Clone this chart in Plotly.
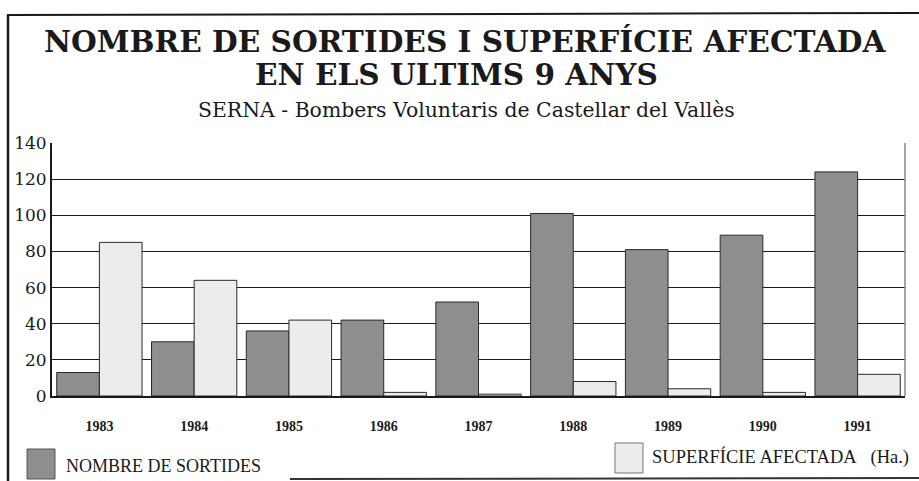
import plotly.graph_objects as go

years = ["1983", "1984", "1985", "1986", "1987", "1988", "1989", "1990", "1991"]
sortides = [13, 30, 36, 42, 52, 101, 81, 89, 124]
superficie = [85, 64, 42, 2, 1, 8, 4, 2, 12]
y_ticks = [0, 20, 40, 60, 80, 100, 120, 140]

title_1 = "NOMBRE DE SORTIDES I SUPERFÍCIE AFECTADA"
title_2 = "EN ELS ULTIMS 9 ANYS"
subtitle = "SERNA - Bombers Voluntaris de Castellar del Vallès"
name_sortides = "NOMBRE DE SORTIDES"
name_superficie = "SUPERFÍCIE AFECTADA\u00a0\u00a0\u00a0(Ha.)"

SERIF = "Liberation Serif"
WIDE = "DejaVu Serif"
DARK = "#8e8e8e"
LIGHT = "#ececec"

W, H = 919, 481
L, R, T, B = 52, 14, 143, 85
PW, PH = W - L - R, H - T - B


def px(x):
    return (x - L) / PW


def py(y):
    return (H - B - y) / PH


fig = go.Figure()
fig.add_trace(go.Bar(x=years, y=sortides, name=name_sortides,
                     marker=dict(color=DARK, line=dict(color="#2a2a2a", width=1))))
fig.add_trace(go.Bar(x=years, y=superficie, name=name_superficie,
                     marker=dict(color=LIGHT, line=dict(color="#2a2a2a", width=1))))

fig.update_layout(
    width=W, height=H,
    margin=dict(l=L, r=R, t=T, b=B),
    paper_bgcolor="white", plot_bgcolor="white",
    barmode="group", bargap=0.1, bargroupgap=0.0,
    showlegend=False,
    font=dict(family=SERIF, color="#1a1a1a"),
)
fig.update_yaxes(range=[0, 140], tickvals=y_ticks, showgrid=True, gridcolor="#1a1a1a",
                 gridwidth=1.3, showline=True, linecolor="#1a1a1a", linewidth=2,
                 zeroline=False, tickfont=dict(family=WIDE, size=17, color="#1a1a1a"),
                 ticks="", fixedrange=True)
fig.update_xaxes(showline=True, linecolor="#1a1a1a", linewidth=1.5, showgrid=False,
                 tickfont=dict(family=SERIF, size=14, color="#1a1a1a", weight="bold"),
                 ticks="", ticklabelstandoff=16, fixedrange=True)

ann = [
    dict(text="<b>" + title_1 + "</b>", x=0.5 * (px(35) + px(896)), y=py(41), size=29.6),
    dict(text="<b>" + title_2 + "</b>", x=0.5 * (px(248) + px(664)), y=py(74), size=29.6),
    dict(text=subtitle, x=0.5 * (px(198) + px(735)), y=py(110), size=20.4),
]
annotations = []
for a in ann:
    annotations.append(dict(text=a["text"], x=a["x"], y=a["y"], xref="paper", yref="paper",
                            xanchor="center", yanchor="middle", showarrow=False,
                            font=dict(family=WIDE, size=a["size"], color="#1a1a1a")))
annotations.append(dict(text=name_sortides, x=px(64), y=py(466), xref="paper", yref="paper",
                        xanchor="left", yanchor="middle", showarrow=False,
                        font=dict(family=SERIF, size=18, color="#1a1a1a")))
annotations.append(dict(text=name_superficie, x=px(650), y=py(457), xref="paper", yref="paper",
                        xanchor="left", yanchor="middle", showarrow=False,
                        font=dict(family=SERIF, size=18.5, color="#1a1a1a")))
fig.update_layout(annotations=annotations)

shapes = [
    # legend swatches
    dict(type="rect", xref="paper", yref="paper", x0=px(27), x1=px(55), y0=py(479), y1=py(449),
         fillcolor=DARK, line=dict(color="#555", width=1)),
    dict(type="rect", xref="paper", yref="paper", x0=px(615), x1=px(643), y0=py(473), y1=py(443),
         fillcolor=LIGHT, line=dict(color="#777", width=1)),
    # right edge of plot
    dict(type="line", xref="paper", yref="paper", x0=1, x1=1, y0=0, y1=1,
         line=dict(color="#888", width=1.5)),
    # outer frame
    dict(type="line", xref="paper", yref="paper", x0=px(8), x1=px(8), y0=py(15), y1=py(481),
         line=dict(color="#1a1a1a", width=2.5)),
    dict(type="line", xref="paper", yref="paper", x0=px(7), x1=px(919), y0=py(15), y1=py(13),
         line=dict(color="#1a1a1a", width=2)),
    dict(type="line", xref="paper", yref="paper", x0=px(290), x1=px(919), y0=py(479), y1=py(478),
         line=dict(color="#333", width=2)),
]
fig.update_layout(shapes=shapes)

fig.write_html("out.html", config={"displayModeBar": False},
               post_script="document.body.style.margin='0';document.body.style.overflow='hidden';")
